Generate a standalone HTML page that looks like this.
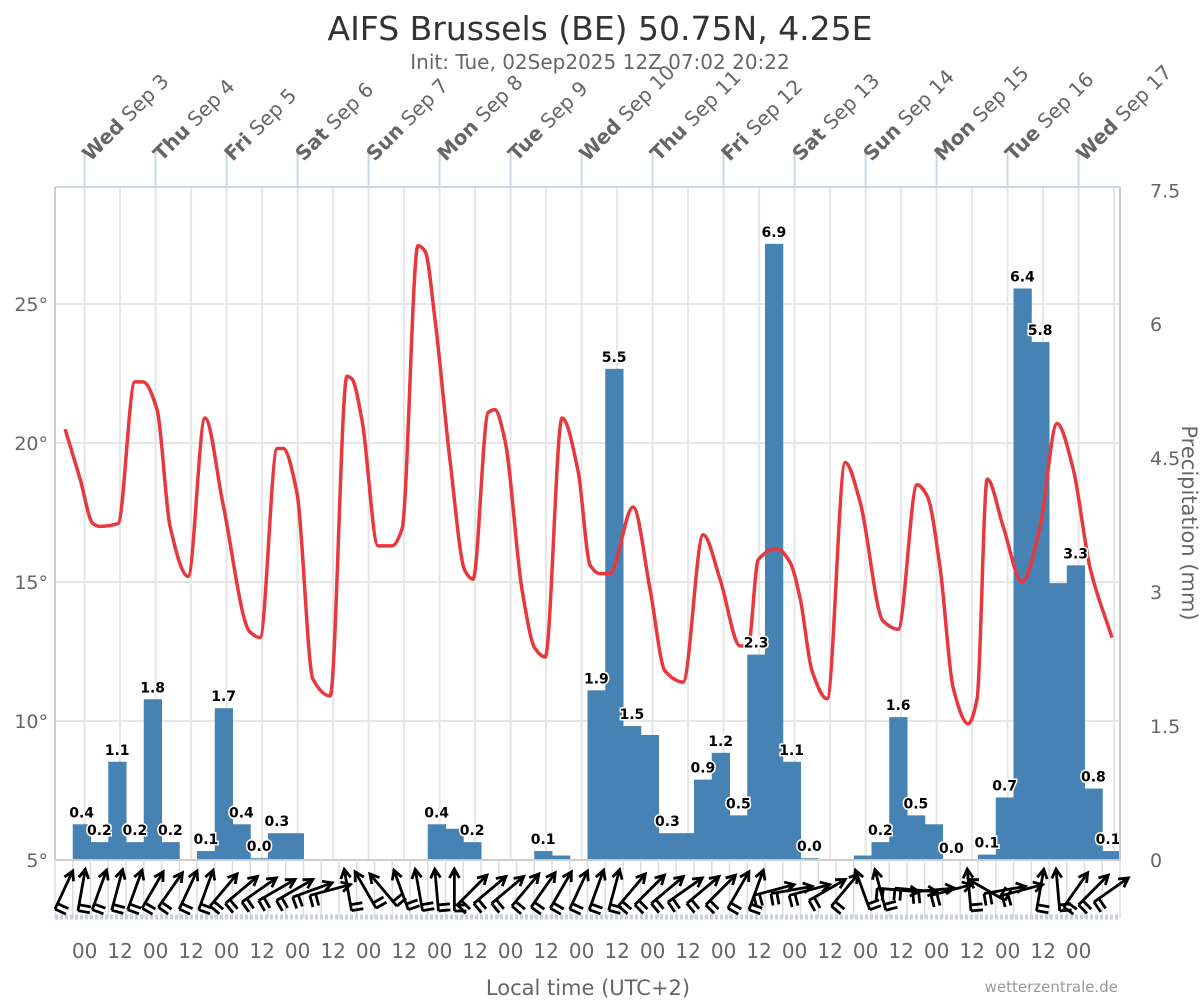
<!DOCTYPE html>
<html><head><meta charset="utf-8">
<style>
body{margin:0;background:#fff;font-family:"DejaVu Sans","Liberation Sans",sans-serif;}
svg text{font-family:"DejaVu Sans","Liberation Sans",sans-serif;}
</style></head>
<body>
<svg id="chart" width="1200" height="1000" xmlns="http://www.w3.org/2000/svg">
<text x="600" y="40" text-anchor="middle" font-size="33" fill="#333">AIFS Brussels (BE) 50.75N, 4.25E</text>
<text x="600" y="69" text-anchor="middle" font-size="20" fill="#666">Init: Tue, 02Sep2025 12Z 07:02 20:22</text>
<g id="grid"></g><g id="bars"></g><g id="line"></g><g id="labels"></g><g id="axes"></g><g id="wind"></g>
<text x="588" y="995" text-anchor="middle" font-size="21" fill="#666">Local time (UTC+2)</text>
<text transform="translate(1182,523) rotate(90)" text-anchor="middle" font-size="21" fill="#666">Precipitation (mm)</text>
<text x="1118" y="992" text-anchor="end" font-size="15" fill="#999">wetterzentrale.de</text>
</svg>
<script>
const precip=[0,0.4,0.2,1.1,0.2,1.8,0.2,0,0.1,1.7,0.4,0.02,0.3,0.3,0,0,0,0,0,0,0,0.4,0.35,0.2,0,0,0,0.1,0.05,0,1.9,5.5,1.5,1.4,0.3,0.3,0.9,1.2,0.5,2.3,6.9,1.1,0.02,0,0,0.05,0.2,1.6,0.5,0.4,0,0,0.06,0.7,6.4,5.8,3.1,3.3,0.8,0.1];
const showLabel=[0,1,1,1,1,1,1,0,1,1,1,1,1,0,0,0,0,0,0,0,0,1,0,1,0,0,0,1,0,0,1,1,1,0,1,0,1,1,1,1,1,1,1,0,0,0,1,1,1,0,1,0,1,1,1,1,0,1,1,1];
const tempHours=[3.4,8.5,12.8,15.2,21.3,27,29.7,34.5,38.9,45,50.7,56.8,65.9,69.3,75.1,77.1,81.8,87.2,93,98.7,100.4,103.8,109.2,113.9,117.3,122.7,125.1,128.5,133.5,138.6,141.3,146.4,148.7,152.1,157.9,162.3,165.7,171.4,176.8,180.9,184.2,187.6,195.4,201.2,206.2,212.3,219.1,224.8,231.6,234.3,237.7,244.1,248.5,251.9,255.9,261,267.1,272.1,279.9,285,291.4,294.8,299.2,303.6,308.7,311.7,315.1,320.5,326.9,333,338.7,344.1,349.9,357.3];
const tempVals=[20.5,18.7,17.1,17.0,17.1,22.2,22.2,21.2,17.0,15.2,20.9,17.8,13.2,13.0,19.8,19.8,18.2,11.5,10.9,22.4,22.3,20.8,16.3,16.3,16.9,27.1,26.9,24.4,19.4,15.4,15.1,21.1,21.2,20.1,14.7,12.6,12.3,20.9,19.0,15.6,15.3,15.3,17.7,14.7,11.8,11.4,16.7,15.1,12.7,12.7,15.8,16.2,15.7,14.4,11.8,10.8,19.3,17.9,13.6,13.3,18.5,18.1,15.5,11.2,9.9,10.8,18.7,17.0,15.0,17.0,20.7,19.1,15.5,13.0];
const windDir=[25,10,20,15,20,30,35,25,20,40,50,55,60,60,70,75,-10,-30,-40,-20,-10,-5,0,45,50,50,40,35,30,25,20,15,40,45,50,55,50,45,30,20,75,80,75,60,40,-20,-15,95,95,85,75,-5,-60,80,75,10,-5,35,45,55];
const dayNames=["Wed","Thu","Fri","Sat","Sun","Mon","Tue","Wed","Thu","Fri","Sat","Sun","Mon","Tue","Wed"];
const dayDates=["Sep 3","Sep 4","Sep 5","Sep 6","Sep 7","Sep 8","Sep 9","Sep 10","Sep 11","Sep 12","Sep 13","Sep 14","Sep 15","Sep 16","Sep 17"];
const tempTicks=[5,10,15,20,25];
const precipTicks=[0,1.5,3,4.5,6,7.5];

const NS="http://www.w3.org/2000/svg";
const X0=55,X1=1120,TOP=187,BOT=860,HOURS=360;
const xH=h=>X0+(X1-X0)*h/HOURS;
const yT=t=>BOT-(t-5)*27.8;
const yP=p=>BOT-p*89.3;
function mk(tag,attrs,parent){const e=document.createElementNS(NS,tag);for(const k in attrs)e.setAttribute(k,attrs[k]);document.getElementById(parent).appendChild(e);return e;}

for(let h=10;h<HOURS;h+=12){const x=xH(h);const g=mk('line',{x1:x,x2:x,y1:TOP,y2:BOT,stroke:'#e6e6e6','stroke-width':2},'grid');

}
tempTicks.forEach(t=>{const y=yT(t);const g=mk('line',{x1:X0,x2:X1,y1:y,y2:y,stroke:'#e6e6e6','stroke-width':2},'grid');


const l=mk('text',{x:48,y:y+7,'text-anchor':'end','font-size':19,fill:'#666'},'axes');l.textContent=t+'°';

});
precipTicks.forEach(p=>{const l=mk('text',{x:1150,y:yP(p)+7,'font-size':19,fill:'#666'},'axes');l.textContent=String(p);

});

let f=mk('line',{x1:X0,x2:X1,y1:TOP,y2:TOP,stroke:'#ccd6eb','stroke-width':2},'axes');


f=mk('line',{x1:X0,x2:X0,y1:TOP,y2:BOT,stroke:'#ccc','stroke-width':2},'axes');


f=mk('line',{x1:X1,x2:X1,y1:TOP,y2:BOT,stroke:'#ccc','stroke-width':2},'axes');


f=mk('line',{x1:X0,x2:X1,y1:BOT,y2:BOT,stroke:'#ccc','stroke-width':2},'axes');



const bw=(X1-X0)/precip.length;
precip.forEach((p,i)=>{const x=X0+i*bw;
if(p>0){const r=mk('rect',{x:x,y:yP(p),width:bw+0.5,height:BOT-yP(p),fill:'#4682b4'},'bars');

}
if(showLabel[i]){const t=mk('text',{x:Math.min(x+bw/2,1108),y:yP(p)-7,'text-anchor':'middle','font-size':14,'font-weight':'bold',fill:'#000',stroke:'#fff','stroke-width':3,'paint-order':'stroke'},'labels');t.textContent=p.toFixed(1);

}});

// monotone cubic temperature line
const xs=tempHours.map(xH), ys=tempVals.map(yT), n=xs.length;
const dl=[],m=[];
for(let i=0;i<n-1;i++)dl.push((ys[i+1]-ys[i])/(xs[i+1]-xs[i]));
m[0]=dl[0];m[n-1]=dl[n-2];
for(let i=1;i<n-1;i++){if(dl[i-1]*dl[i]<=0)m[i]=0;else{const w1=2*(xs[i+1]-xs[i])+(xs[i]-xs[i-1]),w2=(xs[i+1]-xs[i])+2*(xs[i]-xs[i-1]);m[i]=(w1+w2)/(w1/dl[i-1]+w2/dl[i]);}}
let d='M'+xs[0]+','+ys[0];
for(let i=0;i<n-1;i++){const h=(xs[i+1]-xs[i])/3;
d+=` C${xs[i]+h},${ys[i]+m[i]*h} ${xs[i+1]-h},${ys[i+1]-m[i+1]*h} ${xs[i+1]},${ys[i+1]}`;}
const tl=mk('path',{d:d,fill:'none',stroke:'#e8383d','stroke-width':3.5,'stroke-linejoin':'round'},'line');



dayNames.forEach((nm,i)=>{const x=xH(10+24*i);
const tk=mk('line',{x1:x,x2:x,y1:148,y2:TOP,stroke:'#ccd6eb','stroke-width':2},'axes');


const t=mk('text',{transform:`translate(${x+6},162) rotate(-45)`,'font-size':20,fill:'#666'},'axes');
t.innerHTML=`<tspan font-weight="bold">${nm}</tspan> ${dayDates[i]}`;

});

for(let k=0;k<29;k++){const x=xH(10+12*k);const t=mk('text',{x:x,y:958,'text-anchor':'middle','font-size':20,fill:'#666'},'axes');t.textContent=k%2?'12':'00';

}

for(let i=0;i<=precip.length;i++){const x=X0+i*bw;const g=mk('line',{x1:x,x2:x,y1:BOT,y2:918,stroke:'#ddd','stroke-width':1.5},'wind');

}
const wb=mk('line',{x1:X0,x2:X1,y1:917,y2:917,stroke:'#c8d0dc','stroke-width':5,'stroke-dasharray':'3,2'},'wind');


windDir.forEach((a,i)=>{const cx=X0+(i+0.5)*bw,cy=890,L=42;const r=a*Math.PI/180;
const dx=Math.sin(r),dy=-Math.cos(r);
const tx=cx+dx*L/2,ty=cy+dy*L/2,bx=cx-dx*L/2,by=cy-dy*L/2;
const px=-dy,py=dx;
const g=document.createElementNS(NS,'path');
const ah=9;
const a1=[tx-dx*ah+px*5,ty-dy*ah+py*5],a2=[tx-dx*ah-px*5,ty-dy*ah-py*5];
const b1=[bx+px*12,by+py*12],b2=[bx+dx*6+px*12,by+dy*6+py*12],b3=[bx+dx*6,by+dy*6];
g.setAttribute('d',`M${bx},${by}L${tx},${ty}M${a1[0]},${a1[1]}L${tx},${ty}L${a2[0]},${a2[1]}M${bx},${by}L${b1[0]},${b1[1]}M${b3[0]},${b3[1]}L${b2[0]},${b2[1]}`);
g.setAttribute('stroke','#000');g.setAttribute('stroke-width','2.8');g.setAttribute('fill','none');


document.getElementById('wind').appendChild(g);});
</script>
</body></html>
